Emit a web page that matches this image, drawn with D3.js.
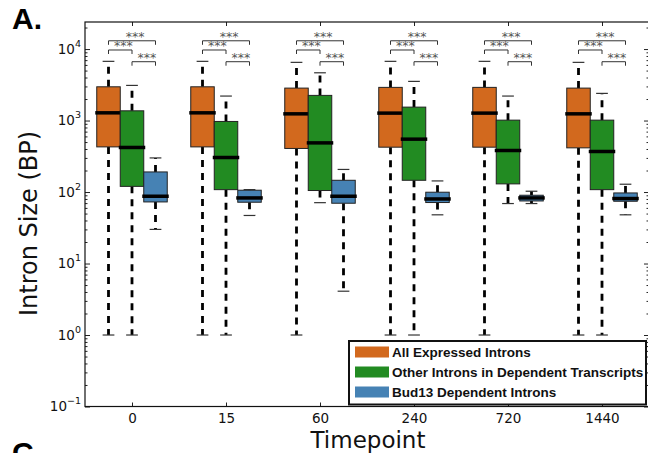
<!DOCTYPE html>
<html>
<head>
<meta charset="utf-8">
<script src="https://cdn.jsdelivr.net/npm/d3@7"></script>
<style>
  html, body { margin: 0; padding: 0; background: #fff; }
  svg { display: block; }
</style>
</head>
<body>
<svg id="chart" width="648" height="453"></svg>
<script>
// Timepoints (minutes) along the x axis
const timepoints = ["0", "15", "60", "240", "720", "1440"];

// Series names, in legend order
const seriesNames = [
  "All Expressed Introns",
  "Other Introns in Dependent Transcripts",
  "Bud13 Dependent Introns"
];
const seriesColors = ["#D2691E", "#228B22", "#4682B4"];

// Box summaries per timepoint: [lower whisker, Q1, median, Q3, upper whisker] (bp)
const allExpressed = [
  [1, 428, 1282, 2965, 6730],
  [1, 428, 1282, 2965, 6730],
  [1, 407, 1241, 2843, 6513],
  [1, 424, 1270, 2910, 6730],
  [1, 424, 1270, 2910, 6730],
  [1, 415, 1241, 2843, 6513]
];
const otherInDependent = [
  [1, 120, 420, 1368, 3100],
  [1, 108, 304, 971, 2200],
  [71, 105, 487, 2248, 4656],
  [1, 146, 549, 1541, 3530],
  [69, 130, 381, 1013, 2200],
  [1, 108, 369, 1013, 2398]
];
const bud13Dependent = [
  [30, 72.7, 87.3, 191, 300],
  [47, 72, 82.7, 106, 108],
  [4.1, 69.7, 87.3, 146, 207],
  [48, 71.3, 80, 99.4, 143],
  [69, 75, 82.7, 90.2, 102.6],
  [48, 74.3, 81.1, 97.1, 128.6]
];
const seriesData = [allExpressed, otherInDependent, bud13Dependent];

// Pairwise comparisons drawn above each timepoint, with their significance labels
const comparisons = [[0, 1], [1, 2], [0, 2]];
const sigLabels = [
  ["***", "***", "***"],
  ["***", "***", "***"],
  ["***", "***", "***"],
  ["***", "***", "***"],
  ["***", "***", "***"],
  ["***", "***", "***"]
];

// Y-axis decades
const decadeTicks = [0.1, 1, 10, 100, 1000, 10000];
const decadeExponents = ["\u22121", "0", "1", "2", "3", "4"];

// ---- layout ----
const mLeft = 85, mRight = 649, mTop = 22, mBottom = 406.5;
const svg = d3.select("#chart");

const x = d3.scaleLinear().domain([0.5, timepoints.length + 0.5]).range([mLeft, mRight]);
const y = d3.scaleLog().domain([0.1, 23900]).range([mBottom, mTop]);

const boxW = 0.25;
const boxPx = x(boxW) - x(0);

// minor log ticks
const minorTicks = [];
for (let e = -1; e <= 4; e++) {
  for (let m = 2; m <= 9; m++) {
    const v = m * Math.pow(10, e);
    if (v < 23900) minorTicks.push(v);
  }
}

const tickColor = "#222";
function styleAxis(g) {
  g.select(".domain").remove();
  g.selectAll(".tick line").attr("stroke", tickColor);
}

// left axis: major ticks with superscript labels
const gLeft = svg.append("g").attr("transform", `translate(${mLeft},0)`)
  .call(d3.axisLeft(y).tickValues(decadeTicks).tickSize(-5).tickFormat(""))
  .call(styleAxis);
gLeft.selectAll(".tick").each(function(d, i) {
  const t = d3.select(this).append("text")
    .attr("x", -4).attr("y", 4)
    .attr("text-anchor", "end")
    .attr("fill", "#111")
    .style("font-family", "DejaVu Sans")
    .style("font-size", "13.5px");
  t.append("tspan").text("10");
  t.append("tspan").attr("dy", -7).style("font-size", "9.5px").text(decadeExponents[i]);
});
svg.append("g").attr("transform", `translate(${mLeft},0)`)
  .call(d3.axisLeft(y).tickValues(minorTicks).tickSize(-2.5).tickFormat(""))
  .call(styleAxis);

// right axis ticks (no labels)
svg.append("g").attr("transform", `translate(${mRight},0)`)
  .call(d3.axisRight(y).tickValues(decadeTicks).tickSize(-5).tickFormat(""))
  .call(styleAxis);
svg.append("g").attr("transform", `translate(${mRight},0)`)
  .call(d3.axisRight(y).tickValues(minorTicks).tickSize(-2.5).tickFormat(""))
  .call(styleAxis);

// bottom axis with timepoint labels
const positions = timepoints.map((_, i) => i + 1);
svg.append("g").attr("transform", `translate(0,${mBottom})`)
  .call(d3.axisBottom(x).tickValues(positions).tickSize(-4).tickPadding(7)
    .tickFormat(d => timepoints[d - 1]))
  .call(styleAxis)
  .call(g => g.selectAll("text")
    .attr("fill", "#111")
    .style("font-family", "DejaVu Sans")
    .style("font-size", "13.5px"));

// top axis ticks
svg.append("g").attr("transform", `translate(0,${mTop})`)
  .call(d3.axisTop(x).tickValues(positions).tickSize(-4).tickFormat(""))
  .call(styleAxis);

// frame
svg.append("rect")
  .attr("x", mLeft).attr("y", mTop)
  .attr("width", mRight - mLeft).attr("height", mBottom - mTop)
  .attr("fill", "none").attr("stroke", "#111").attr("stroke-width", 1.2);

// ---- boxes ----
const plot = svg.append("g");
seriesData.forEach((rows, s) => {
  const g = plot.append("g");
  const offset = (s - 1) * boxW;
  rows.forEach((r, i) => {
    const [lo, q1, med, q3, hi] = r;
    const cx = x(i + 1 + offset);
    // whiskers
    g.append("line").attr("x1", cx).attr("x2", cx).attr("y1", y(q1)).attr("y2", y(lo))
      .attr("stroke", "#000").attr("stroke-width", 2.8).attr("stroke-dasharray", "7,6");
    g.append("line").attr("x1", cx).attr("x2", cx).attr("y1", y(q3)).attr("y2", y(hi))
      .attr("stroke", "#000").attr("stroke-width", 2.8).attr("stroke-dasharray", "7,6");
    // caps
    [lo, hi].forEach(v => {
      g.append("line").attr("x1", cx - boxPx / 4).attr("x2", cx + boxPx / 4)
        .attr("y1", y(v)).attr("y2", y(v))
        .attr("stroke", "#333").attr("stroke-width", 1.2);
    });
  });
  rows.forEach((r, i) => {
    const [lo, q1, med, q3, hi] = r;
    const cx = x(i + 1 + offset);
    g.append("rect")
      .attr("x", cx - boxPx / 2).attr("width", boxPx)
      .attr("y", y(q3)).attr("height", y(q1) - y(q3))
      .attr("fill", seriesColors[s]).attr("stroke", "#222").attr("stroke-width", 1);
    g.append("line")
      .attr("x1", cx - boxPx / 2 - 1.5).attr("x2", cx + boxPx / 2 + 1.5)
      .attr("y1", y(med)).attr("y2", y(med))
      .attr("stroke", "#000").attr("stroke-width", 3.5);
  });
});

// ---- significance brackets ----
const bracketLevel = [9700, 6650, 13050]; // heights (bp) of the three bracket rows
const legDrop = 4;
const sig = svg.append("g");
timepoints.forEach((_, i) => {
  comparisons.forEach(([a, b], k) => {
    const xa = x(i + 1 + (a - 1) * boxW);
    const xb = x(i + 1 + (b - 1) * boxW);
    const yb = y(bracketLevel[k]);
    sig.append("path")
      .attr("d", `M${xa},${yb + legDrop}V${yb}H${xb}V${yb + legDrop}`)
      .attr("fill", "none").attr("stroke", "#333").attr("stroke-width", 1);
    sig.append("text")
      .attr("x", (xa + xb) / 2 + 3).attr("y", yb + 0.5)
      .attr("text-anchor", "middle")
      .attr("fill", "#555")
      .style("font-family", "DejaVu Sans")
      .style("font-size", "12.5px")
      .text(sigLabels[i][k]);
  });
});

// ---- legend ----
const lg = svg.append("g");
lg.append("rect")
  .attr("x", 349).attr("y", 341).attr("width", 297).attr("height", 63.5)
  .attr("fill", "#fff").attr("stroke", "#111").attr("stroke-width", 2);
seriesNames.forEach((name, s) => {
  const cy = 352 + s * 20;
  lg.append("rect").attr("x", 355).attr("y", cy - 5.5).attr("width", 34).attr("height", 11)
    .attr("fill", seriesColors[s]);
  lg.append("text").attr("x", 392).attr("y", cy + 5)
    .attr("fill", "#111")
    .style("font-family", "Liberation Sans, Arial, sans-serif")
    .style("font-weight", "bold")
    .style("font-size", "13.5px")
    .text(name);
});

// ---- titles ----
svg.append("text")
  .attr("transform", "translate(37,223.5) rotate(-90)")
  .attr("text-anchor", "middle")
  .attr("fill", "#111")
  .style("font-family", "DejaVu Sans")
  .style("font-size", "24px")
  .text("Intron Size (BP)");
svg.append("text")
  .attr("x", 368).attr("y", 448)
  .attr("text-anchor", "middle")
  .attr("fill", "#111")
  .style("font-family", "DejaVu Sans")
  .style("font-size", "23px")
  .text("Timepoint");

// panel letters
svg.append("text").attr("x", 12).attr("y", 29)
  .style("font-family", "Liberation Sans, Arial, sans-serif")
  .style("font-weight", "bold").style("font-size", "30px")
  .text("A.");
svg.append("text").attr("x", 12).attr("y", 463)
  .style("font-family", "Liberation Sans, Arial, sans-serif")
  .style("font-weight", "bold").style("font-size", "30px")
  .text("C.");
</script>
</body>
</html>
